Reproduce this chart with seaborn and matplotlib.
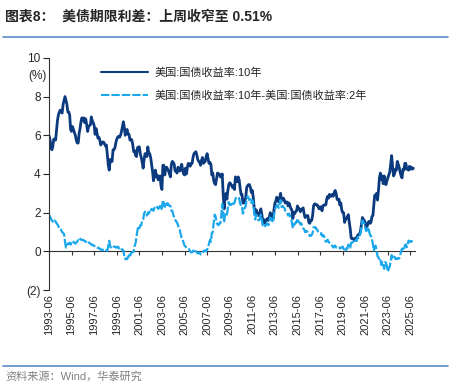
import matplotlib
matplotlib.use('Agg')
import matplotlib.pyplot as plt
from matplotlib.lines import Line2D
import seaborn as sns
import pandas as pd

# monthly values, 1993-06 .. 2025-09
yield_10y = [
    6.0, 5.8, 5.45, 5.25, 5.4, 5.8, 5.8,                                  # 1993 Jun-Dec
    5.75, 6.25, 6.75, 7.05, 7.2, 7.3, 7.2, 7.15, 7.6, 7.8, 8.0, 7.8,      # 1994
    7.6, 7.2, 7.2, 7.05, 6.3, 6.2, 6.45, 6.3, 6.15, 6.0, 5.75, 5.6,       # 1995
    5.6, 6.1, 6.35, 6.7, 6.9, 6.75, 6.9, 6.65, 6.85, 6.55, 6.2, 6.45,     # 1996
    6.5, 6.55, 6.95, 6.75, 6.65, 6.5, 6.05, 6.35, 6.1, 5.85, 5.9, 5.75,   # 1997
    5.5, 5.6, 5.65, 5.65, 5.55, 5.45, 5.5, 5.0, 4.45, 4.2, 4.75, 4.65,    # 1998
    4.65, 5.25, 5.25, 5.35, 5.6, 5.8, 5.9, 5.95, 5.9, 6.0, 6.2, 6.45,     # 1999
    6.7, 6.4, 6.0, 6.2, 6.3, 6.05, 6.05, 5.75, 5.8, 5.75, 5.5, 5.15,      # 2000
    5.2, 4.95, 4.9, 5.35, 5.4, 5.4, 5.05, 4.85, 4.6, 4.3, 4.75, 5.05,     # 2001
    5.05, 4.9, 5.4, 5.1, 5.05, 4.85, 4.5, 4.15, 3.65, 3.9, 4.2, 3.85,     # 2002
    3.95, 3.7, 3.85, 3.9, 3.4, 3.2, 4.45, 4.45, 3.95, 4.3, 4.35, 4.25,    # 2003
    4.15, 4.0, 3.85, 4.5, 4.65, 4.6, 4.5, 4.15, 4.15, 4.05, 4.35, 4.25,   # 2004
    4.15, 4.35, 4.5, 4.2, 4.0, 3.95, 4.3, 4.0, 4.35, 4.55, 4.5, 4.4,      # 2005
    4.55, 4.55, 4.85, 5.05, 5.1, 5.15, 5.0, 4.75, 4.65, 4.6, 4.45, 4.7,   # 2006
    4.85, 4.55, 4.65, 4.65, 4.9, 5.05, 4.8, 4.55, 4.6, 4.5, 3.95, 4.05,   # 2007
    3.65, 3.5, 3.45, 3.75, 4.05, 4.0, 4.0, 3.85, 3.85, 4.0, 2.95, 2.2,    # 2008
    2.85, 3.0, 2.7, 3.15, 3.45, 3.55, 3.5, 3.4, 3.3, 3.4, 3.2, 3.85,      # 2009
    3.65, 3.6, 3.85, 3.7, 3.3, 2.95, 2.95, 2.5, 2.5, 2.6, 2.8, 3.3,       # 2010
    3.4, 3.45, 3.45, 3.3, 3.05, 3.15, 2.8, 2.25, 1.9, 2.15, 2.05, 1.9,    # 2011
    1.85, 1.95, 2.2, 1.95, 1.6, 1.65, 1.45, 1.55, 1.65, 1.7, 1.6, 1.75,   # 2012
    2.0, 1.9, 1.85, 1.7, 2.15, 2.5, 2.6, 2.8, 2.65, 2.55, 2.75, 3.0,      # 2013
    2.65, 2.65, 2.75, 2.65, 2.5, 2.55, 2.55, 2.35, 2.5, 2.35, 2.2, 2.15,  # 2014
    1.7, 2.0, 1.95, 2.05, 2.1, 2.35, 2.2, 2.2, 2.05, 2.15, 2.2, 2.25,     # 2015
    1.95, 1.75, 1.8, 1.85, 1.85, 1.5, 1.45, 1.6, 1.6, 1.85, 2.35, 2.45,   # 2016
    2.45, 2.4, 2.4, 2.3, 2.2, 2.3, 2.3, 2.1, 2.35, 2.4, 2.4, 2.4,         # 2017
    2.7, 2.85, 2.75, 2.95, 2.85, 2.85, 2.95, 2.85, 3.05, 3.15, 3.0, 2.7,  # 2018
    2.65, 2.7, 2.4, 2.5, 2.15, 2.0, 2.0, 1.5, 1.65, 1.7, 1.8, 1.9,        # 2019
    1.5, 1.15, 0.7, 0.65, 0.65, 0.65, 0.55, 0.7, 0.7, 0.85, 0.85, 0.9,    # 2020
    1.1, 1.45, 1.75, 1.65, 1.6, 1.45, 1.25, 1.3, 1.5, 1.55, 1.45, 1.5,    # 2021
    1.8, 1.85, 2.35, 2.9, 2.85, 3.0, 2.65, 3.15, 3.8, 4.05, 3.7, 3.9,     # 2022
    3.5, 3.9, 3.5, 3.45, 3.65, 3.8, 3.95, 4.1, 4.55, 4.95, 4.35, 3.9,     # 2023
    4.0, 4.25, 4.2, 4.65, 4.5, 4.35, 4.1, 3.9, 3.8, 4.25, 4.2, 4.55,      # 2024
    4.55, 4.25, 4.25, 4.2, 4.4, 4.25, 4.35, 4.25, 4.3,                    # 2025 Jan-Sep
]

spread_10y_2y = [
    1.9, 1.8, 1.7, 1.6, 1.55, 1.5, 1.6,                                   # 1993 Jun-Dec
    1.55, 1.45, 1.4, 1.3, 1.2, 1.2, 1.1, 1.0, 0.95, 0.9, 0.5, 0.2,        # 1994
    0.3, 0.4, 0.4, 0.45, 0.35, 0.45, 0.55, 0.5, 0.45, 0.4, 0.45, 0.5,     # 1995
    0.6, 0.7, 0.65, 0.6, 0.6, 0.6, 0.55, 0.55, 0.5, 0.45, 0.4, 0.45,      # 1996
    0.45, 0.4, 0.35, 0.35, 0.3, 0.3, 0.25, 0.25, 0.2, 0.2, 0.15, 0.15,    # 1997
    0.1, 0.05, 0.1, 0.05, 0.05, 0.0, 0.05, 0.05, 0.3, 0.55, 0.25, 0.2,    # 1998
    0.15, 0.2, 0.25, 0.25, 0.2, 0.2, 0.25, 0.2, 0.1, 0.15, 0.1, 0.1,      # 1999
    0.05, -0.25, -0.4, -0.35, -0.4, -0.3, -0.2, -0.3, -0.1, -0.05, -0.05, 0.0,  # 2000
    0.3, 0.45, 0.75, 1.1, 1.3, 1.2, 1.35, 1.35, 1.6, 1.65, 1.95, 2.05,    # 2001
    2.0, 1.85, 2.0, 1.95, 2.1, 2.05, 2.2, 2.15, 2.1, 2.25, 2.25, 2.2,     # 2002
    2.3, 2.2, 2.25, 2.35, 2.15, 2.25, 2.65, 2.5, 2.3, 2.45, 2.35, 2.5,    # 2003
    2.4, 2.35, 2.35, 2.1, 2.1, 1.9, 1.75, 1.65, 1.55, 1.5, 1.35, 1.2,     # 2004
    1.1, 0.85, 0.7, 0.6, 0.45, 0.3, 0.25, 0.2, 0.15, 0.15, 0.1, 0.0,      # 2005
    -0.05, -0.05, 0.0, 0.1, 0.1, 0.0, -0.05, -0.1, -0.1, -0.05, -0.15, -0.1,  # 2006
    -0.1, 0.0, 0.05, 0.05, 0.0, 0.1, 0.2, 0.4, 0.6, 0.5, 0.95, 1.0,       # 2007
    1.5, 1.9, 1.8, 1.5, 1.4, 1.35, 1.45, 1.45, 1.85, 2.45, 1.95, 1.5,     # 2008
    1.9, 2.0, 1.9, 2.25, 2.55, 2.4, 2.4, 2.45, 2.35, 2.5, 2.5, 2.7,       # 2009
    2.8, 2.8, 2.8, 2.75, 2.5, 2.35, 2.35, 1.95, 2.1, 2.25, 2.35, 2.7,     # 2010
    2.85, 2.75, 2.65, 2.7, 2.5, 2.65, 2.5, 2.0, 1.65, 1.9, 1.8, 1.65,     # 2011
    1.6, 1.7, 1.9, 1.65, 1.35, 1.35, 1.25, 1.35, 1.4, 1.45, 1.35, 1.5,    # 2012
    1.75, 1.65, 1.6, 1.5, 1.85, 2.15, 2.3, 2.4, 2.35, 2.25, 2.45, 2.65,   # 2013
    2.3, 2.35, 2.3, 2.25, 2.1, 2.05, 2.0, 1.85, 1.95, 1.85, 1.7, 1.5,     # 2014
    1.2, 1.4, 1.4, 1.5, 1.5, 1.7, 1.55, 1.5, 1.4, 1.45, 1.3, 1.2,         # 2015
    1.15, 1.0, 1.05, 1.05, 0.95, 0.9, 0.8, 0.8, 0.85, 0.95, 1.25, 1.25,   # 2016
    1.25, 1.15, 1.13, 1.0, 0.95, 0.93, 0.95, 0.8, 0.85, 0.8, 0.65, 0.5,   # 2017
    0.55, 0.6, 0.47, 0.45, 0.4, 0.33, 0.3, 0.2, 0.25, 0.3, 0.2, 0.2,      # 2018
    0.17, 0.2, 0.15, 0.2, 0.2, 0.25, 0.15, 0.0, 0.05, 0.15, 0.15, 0.35,   # 2019
    0.2, 0.2, 0.45, 0.45, 0.5, 0.5, 0.45, 0.6, 0.55, 0.75, 0.7, 0.8,      # 2020
    0.95, 1.3, 1.6, 1.5, 1.45, 1.2, 1.05, 1.1, 1.25, 1.05, 0.85, 0.8,     # 2021
    0.6, 0.4, 0.05, 0.2, 0.3, 0.05, -0.25, -0.3, -0.45, -0.4, -0.7, -0.55,  # 2022
    -0.7, -0.9, -0.55, -0.6, -0.76, -1.05, -0.9, -0.78, -0.48, -0.19, -0.36, -0.37,  # 2023
    -0.27, -0.39, -0.39, -0.35, -0.38, -0.36, -0.21, 0.0, 0.15, 0.12, 0.05, 0.33,  # 2024
    0.36, 0.22, 0.34, 0.56, 0.51, 0.52, 0.49, 0.6, 0.55,                  # 2025 Jan-Sep
]

tick_years = list(range(1993, 2026, 2))
y_ticks = [-2, 0, 2, 4, 6, 8, 10]
y_tick_labels = ['(2)', '0', '2', '4', '6', '8', '10']
label_10y = '美国:国债收益率:10年'
label_spread = '美国:国债收益率:10年-美国:国债收益率:2年'

sns.set_style('white')
plt.rcParams['font.family'] = ['Liberation Sans', 'Noto Sans CJK SC', 'DejaVu Sans']

dates = pd.date_range('1993-06-01', periods=len(yield_10y), freq='MS')
df = pd.DataFrame({'date': dates, 'y10': yield_10y, 'spread': spread_10y_2y})

fig = plt.figure(figsize=(4.6, 3.91), dpi=100)
ax = fig.add_axes([0.1065, 0.258, 0.795, 0.594])

sns.lineplot(data=df, x='date', y='y10', ax=ax, color='#0B3A7E',
             linewidth=2.0, label=label_10y)
sns.lineplot(data=df, x='date', y='spread', ax=ax, color='#1AA7EC',
             linewidth=1.6, linestyle=(0, (4, 1)), label=label_spread)

ax.set_xlim(pd.Timestamp('1993-06-01'), pd.Timestamp('2025-10-15'))
ax.set_ylim(-2, 10)
ax.set_xlabel('')
ax.set_ylabel('')

ticks = [pd.Timestamp(f'{y}-06-01') for y in tick_years]
ax.set_xticks(ticks, labels=[f'{y}-06' for y in tick_years])
ax.tick_params(axis='x', length=0, pad=3, labelsize=8, rotation=90)
ax.set_yticks(y_ticks, labels=y_tick_labels)
ax.tick_params(axis='y', length=4, width=0.8, direction='out', labelsize=8.5, pad=2,
               left=True)

for s in ['top', 'right', 'bottom']:
    ax.spines[s].set_visible(False)
ax.spines['left'].set_color('#333333')
ax.spines['left'].set_linewidth(0.8)

# zero line carrying the x ticks
secax = ax.secondary_xaxis(1 / 6)
secax.set_xticks(ticks)
secax.tick_params(axis='x', length=3, width=0.8, direction='out',
                  labelbottom=False, labeltop=False, color='#333333')
secax.spines['bottom'].set_color('#333333')
secax.spines['bottom'].set_linewidth(0.8)
secax.spines['top'].set_visible(False)

leg = ax.legend(loc='upper left', bbox_to_anchor=(0.116, 1.0), frameon=False,
                handlelength=4.2, labelspacing=1.1, fontsize=8, handletextpad=0.6)
for h in leg.get_lines():
    h.set_linewidth(1.5)

fig.text(47 / 460, 1 - 76 / 391, '(%)', ha='right', va='center', fontsize=8.5)
fig.text(5 / 460, 1 - 17 / 391, '图表8：  美债期限利差：上周收窄至 0.51%',
         fontweight='bold', fontsize=10, va='center', ha='left')
fig.add_artist(Line2D([3 / 460, 448 / 460], [1 - 37 / 391] * 2,
                      color='#5B8DC8', lw=1.2, transform=fig.transFigure))
fig.add_artist(Line2D([3 / 460, 448 / 460], [1 - 366 / 391] * 2,
                      color='#5B8DC8', lw=1.2, transform=fig.transFigure))
fig.text(5 / 460, 1 - 376 / 391, '资料来源：Wind，华泰研究', color='#808080',
         fontsize=8, va='center', ha='left')

fig.savefig('out.png', dpi=100)
